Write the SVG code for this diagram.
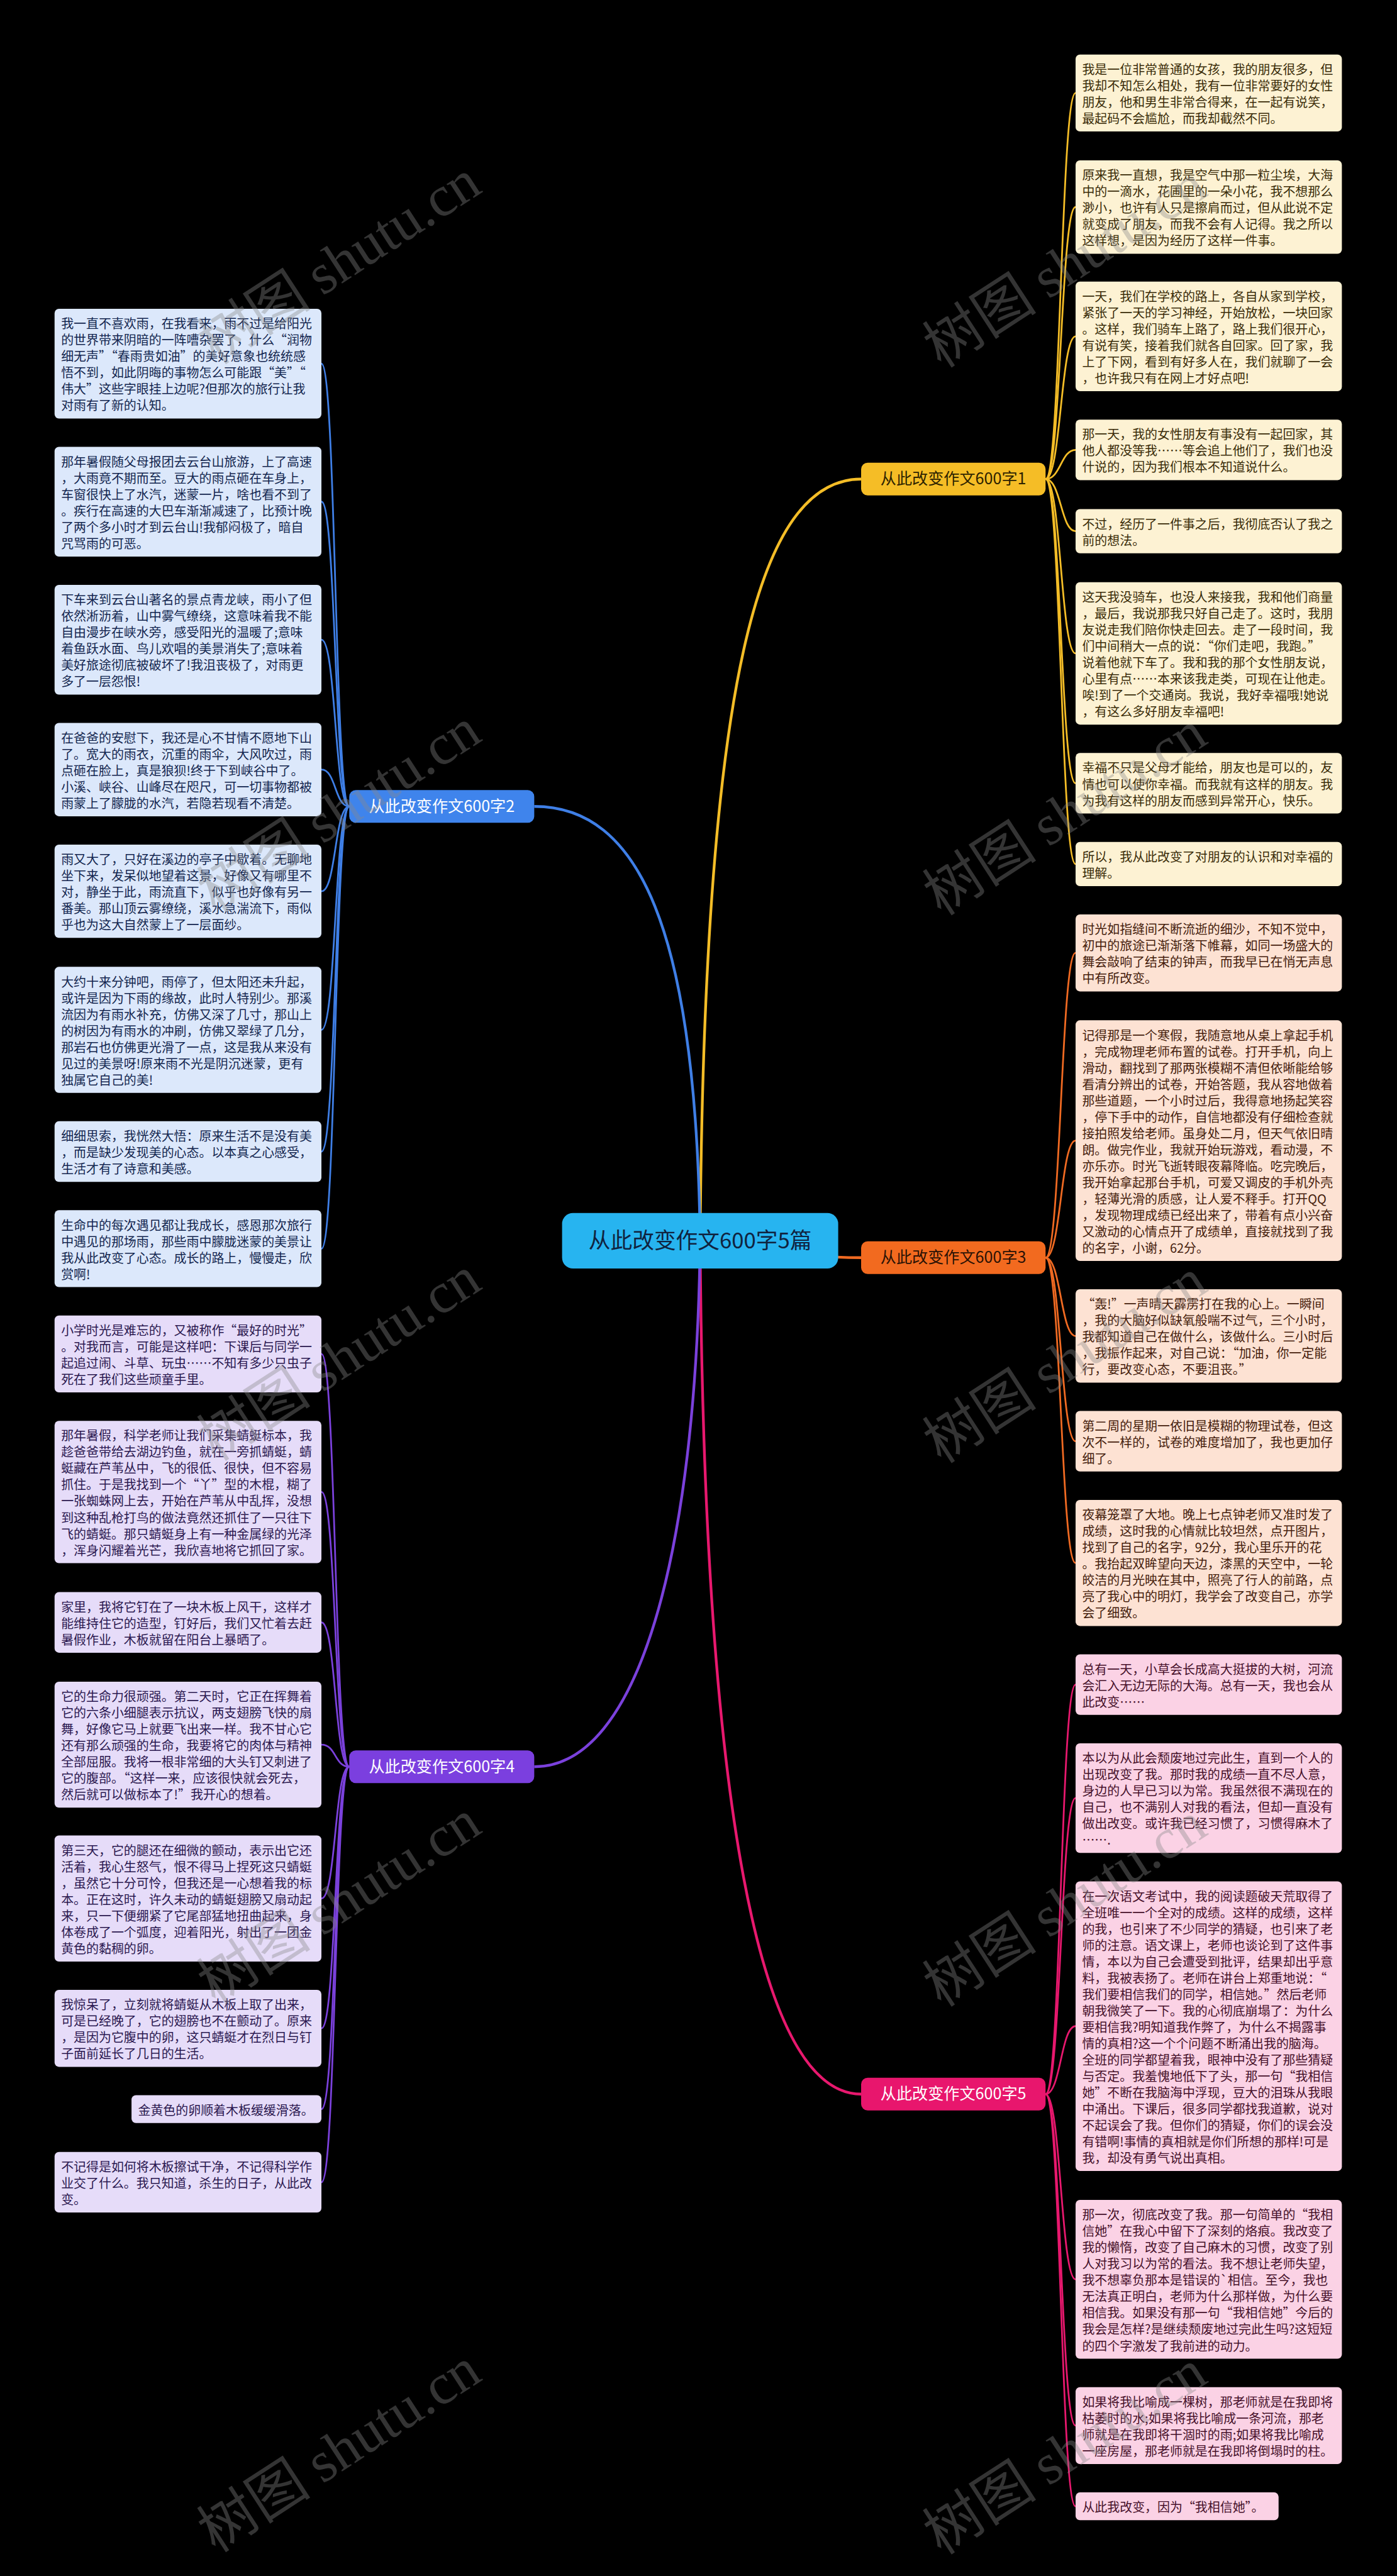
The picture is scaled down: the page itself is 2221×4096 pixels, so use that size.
<svg xmlns="http://www.w3.org/2000/svg" width="2221" height="4096" viewBox="0 0 2221 4096">
<style>
.t{font-family:"Noto Sans CJK SC","Noto Sans",sans-serif;font-size:23px}
.k1{fill:#3a2c08}.k3{fill:#45200c}.k5{fill:#46102a}.k2{fill:#13264f}.k4{fill:#2b1850}
.f1{fill:#fdf2d3}.f3{fill:#fde2d3}.f5{fill:#fbd2e5}.f2{fill:#dce8fb}.f4{fill:#e6dcf9}
.b{font-family:"Noto Sans CJK SC","Noto Sans",sans-serif;font-size:29px;text-anchor:middle}
.l{fill:none;stroke-width:3.2}
.m{fill:none;stroke-width:5}
.s1{stroke:#f4bd27}.s3{stroke:#f06a22}.s5{stroke:#e8186e}.s2{stroke:#3f7fe6}.s4{stroke:#7b41dc}
.wm{font-family:"Noto Sans CJK SC",sans-serif;font-size:105px;fill:#8a8a8a;fill-opacity:0.38}
</style>
<rect x="0" y="0" width="2221" height="4096" fill="#000"/>
<g transform="scale(0.867578)">
<g id="connectors">
<path class="m s1" d="M1283,2274 C1290,1250 1390,878 1578,878"/>
<path class="m s3" d="M1283,2274 C1420,2274 1440,2305 1578,2305"/>
<path class="m s5" d="M1283,2274 C1290,3300 1390,3838 1578,3838"/>
<path class="m s2" d="M1283,2274 C1276,1700 1170,1478 979,1478"/>
<path class="m s4" d="M1283,2274 C1276,2850 1170,3238 979,3238"/>
<path class="l s1" d="M1916,878 C1944,878 1944,170.5 1971,170.5"/>
<path class="l s1" d="M1916,878 C1944,878 1944,379.5 1971,379.5"/>
<path class="l s1" d="M1916,878 C1944,878 1944,616.5 1971,616.5"/>
<path class="l s1" d="M1916,878 C1944,878 1944,824.5 1971,824.5"/>
<path class="l s1" d="M1916,878 C1944,878 1944,973.5 1971,973.5"/>
<path class="l s1" d="M1916,878 C1944,878 1944,1197.5 1971,1197.5"/>
<path class="l s1" d="M1916,878 C1944,878 1944,1435.5 1971,1435.5"/>
<path class="l s1" d="M1916,878 C1944,878 1944,1583.5 1971,1583.5"/>
<path class="l s3" d="M1916,2305 C1944,2305 1944,1746.5 1971,1746.5"/>
<path class="l s3" d="M1916,2305 C1944,2305 1944,2090.5 1971,2090.5"/>
<path class="l s3" d="M1916,2305 C1944,2305 1944,2448.5 1971,2448.5"/>
<path class="l s3" d="M1916,2305 C1944,2305 1944,2641.5 1971,2641.5"/>
<path class="l s3" d="M1916,2305 C1944,2305 1944,2864.5 1971,2864.5"/>
<path class="l s5" d="M1916,3838 C1944,3838 1944,3087.5 1971,3087.5"/>
<path class="l s5" d="M1916,3838 C1944,3838 1944,3295.5 1971,3295.5"/>
<path class="l s5" d="M1916,3838 C1944,3838 1944,3713.5 1971,3713.5"/>
<path class="l s5" d="M1916,3838 C1944,3838 1944,4177.5 1971,4177.5"/>
<path class="l s5" d="M1916,3838 C1944,3838 1944,4445.5 1971,4445.5"/>
<path class="l s5" d="M1916,3838 C1944,3838 1944,4593.5 1971,4593.5"/>
<path class="l s2" d="M640,1478 C613,1478 616,666.5 589,666.5"/>
<path class="l s2" d="M640,1478 C613,1478 616,919.5 589,919.5"/>
<path class="l s2" d="M640,1478 C613,1478 616,1172.5 589,1172.5"/>
<path class="l s2" d="M640,1478 C613,1478 616,1410.5 589,1410.5"/>
<path class="l s2" d="M640,1478 C613,1478 616,1633.5 589,1633.5"/>
<path class="l s2" d="M640,1478 C613,1478 616,1887.5 589,1887.5"/>
<path class="l s2" d="M640,1478 C613,1478 616,2110.5 589,2110.5"/>
<path class="l s2" d="M640,1478 C613,1478 616,2288.5 589,2288.5"/>
<path class="l s4" d="M640,3238 C613,3238 616,2481.5 589,2481.5"/>
<path class="l s4" d="M640,3238 C613,3238 616,2734.5 589,2734.5"/>
<path class="l s4" d="M640,3238 C613,3238 616,2973.5 589,2973.5"/>
<path class="l s4" d="M640,3238 C613,3238 616,3197.5 589,3197.5"/>
<path class="l s4" d="M640,3238 C613,3238 616,3479.5 589,3479.5"/>
<path class="l s4" d="M640,3238 C613,3238 616,3717.5 589,3717.5"/>
<path class="l s4" d="M640,3238 C613,3238 616,3865.5 589,3865.5"/>
<path class="l s4" d="M640,3238 C613,3238 616,3999.5 589,3999.5"/>
</g>

<g id="root">
<rect x="1030" y="2223" width="506" height="102" rx="20" fill="#27b4f0"/>
<text x="1283" y="2288" font-family="Noto Sans CJK SC, Noto Sans, sans-serif" font-size="40" text-anchor="middle" fill="#10233f">从此改变作文600字5篇</text>
</g>

<g id="b1"><rect x="1578" y="848" width="338" height="60" rx="12" fill="#f5bd26"/><text class="b" x="1747" y="888" fill="#2d2300">从此改变作文600字1</text></g>
<g id="b3"><rect x="1578" y="2275" width="338" height="60" rx="12" fill="#f26a1f"/><text class="b" x="1747" y="2315" fill="#2a1205">从此改变作文600字3</text></g>
<g id="b5"><rect x="1578" y="3808" width="338" height="60" rx="12" fill="#e8166d"/><text class="b" x="1747" y="3848" fill="#ffffff">从此改变作文600字5</text></g>
<g id="b2"><rect x="640" y="1448" width="339" height="60" rx="12" fill="#3f84ec"/><text class="b" x="809.5" y="1488" fill="#ffffff">从此改变作文600字2</text></g>
<g id="b4"><rect x="640" y="3208" width="339" height="60" rx="12" fill="#7b3fdf"/><text class="b" x="809.5" y="3248" fill="#ffffff">从此改变作文600字4</text></g>

<g id="r1a"><rect class="f1" x="1971" y="100" width="488" height="141" rx="8"/><text class="t k1"><tspan x="1983" y="136">我是一位非常普通的女孩，我的朋友很多，但</tspan><tspan x="1983" y="166">我却不知怎么相处，我有一位非常要好的女性</tspan><tspan x="1983" y="196">朋友，他和男生非常合得来，在一起有说笑，</tspan><tspan x="1983" y="226">最起码不会尴尬，而我却截然不同。</tspan></text></g>
<g id="r1b"><rect class="f1" x="1971" y="294" width="488" height="171" rx="8"/><text class="t k1"><tspan x="1983" y="330">原来我一直想，我是空气中那一粒尘埃，大海</tspan><tspan x="1983" y="360">中的一滴水，花圃里的一朵小花，我不想那么</tspan><tspan x="1983" y="390">渺小，也许有人只是擦肩而过，但从此说不定</tspan><tspan x="1983" y="420">就变成了朋友，而我不会有人记得。我之所以</tspan><tspan x="1983" y="450">这样想，是因为经历了这样一件事。</tspan></text></g>
<g id="r1c"><rect class="f1" x="1971" y="516" width="488" height="201" rx="8"/><text class="t k1"><tspan x="1983" y="552">一天，我们在学校的路上，各自从家到学校，</tspan><tspan x="1983" y="582">紧张了一天的学习神经，开始放松，一块回家</tspan><tspan x="1983" y="612">。这样，我们骑车上路了，路上我们很开心，</tspan><tspan x="1983" y="642">有说有笑，接着我们就各自回家。回了家，我</tspan><tspan x="1983" y="672">上了下网，看到有好多人在，我们就聊了一会</tspan><tspan x="1983" y="702">，也许我只有在网上才好点吧!</tspan></text></g>
<g id="r1d"><rect class="f1" x="1971" y="769" width="488" height="111" rx="8"/><text class="t k1"><tspan x="1983" y="805">那一天，我的女性朋友有事没有一起回家，其</tspan><tspan x="1983" y="835">他人都没等我……等会追上他们了，我们也没</tspan><tspan x="1983" y="865">什说的，因为我们根本不知道说什么。</tspan></text></g>
<g id="r1e"><rect class="f1" x="1971" y="933" width="488" height="81" rx="8"/><text class="t k1"><tspan x="1983" y="969">不过，经历了一件事之后，我彻底否认了我之</tspan><tspan x="1983" y="999">前的想法。</tspan></text></g>
<g id="r1f"><rect class="f1" x="1971" y="1067" width="488" height="261" rx="8"/><text class="t k1"><tspan x="1983" y="1103">这天我没骑车，也没人来接我，我和他们商量</tspan><tspan x="1983" y="1133">，最后，我说那我只好自己走了。这时，我朋</tspan><tspan x="1983" y="1163">友说走我们陪你快走回去。走了一段时间，我</tspan><tspan x="1983" y="1193">们中间稍大一点的说：“你们走吧，我跑。”</tspan><tspan x="1983" y="1223">说着他就下车了。我和我的那个女性朋友说，</tspan><tspan x="1983" y="1253">心里有点……本来该我走类，可现在让他走。</tspan><tspan x="1983" y="1283">唉!到了一个交通岗。我说，我好幸福哦!她说</tspan><tspan x="1983" y="1313">，有这么多好朋友幸福吧!</tspan></text></g>
<g id="r1g"><rect class="f1" x="1971" y="1380" width="488" height="111" rx="8"/><text class="t k1"><tspan x="1983" y="1416">幸福不只是父母才能给，朋友也是可以的，友</tspan><tspan x="1983" y="1446">情也可以使你幸福。而我就有这样的朋友。我</tspan><tspan x="1983" y="1476">为我有这样的朋友而感到异常开心，快乐。</tspan></text></g>
<g id="r1h"><rect class="f1" x="1971" y="1543" width="488" height="81" rx="8"/><text class="t k1"><tspan x="1983" y="1579">所以，我从此改变了对朋友的认识和对幸福的</tspan><tspan x="1983" y="1609">理解。</tspan></text></g>

<g id="r3a"><rect class="f3" x="1971" y="1676" width="488" height="141" rx="8"/><text class="t k3"><tspan x="1983" y="1712">时光如指缝间不断流逝的细沙，不知不觉中，</tspan><tspan x="1983" y="1742">初中的旅途已渐渐落下帷幕，如同一场盛大的</tspan><tspan x="1983" y="1772">舞会敲响了结束的钟声，而我早已在悄无声息</tspan><tspan x="1983" y="1802">中有所改变。</tspan></text></g>
<g id="r3b"><rect class="f3" x="1971" y="1870" width="488" height="441" rx="8"/><text class="t k3"><tspan x="1983" y="1906">记得那是一个寒假，我随意地从桌上拿起手机</tspan><tspan x="1983" y="1936">，完成物理老师布置的试卷。打开手机，向上</tspan><tspan x="1983" y="1966">滑动，翻找到了那两张模糊不清但依晰能给够</tspan><tspan x="1983" y="1996">看清分辨出的试卷，开始答题，我从容地做着</tspan><tspan x="1983" y="2026">那些道题，一个小时过后，我得意地扬起笑容</tspan><tspan x="1983" y="2056">，停下手中的动作，自信地都没有仔细检查就</tspan><tspan x="1983" y="2086">接拍照发给老师。虽身处二月，但天气依旧晴</tspan><tspan x="1983" y="2116">朗。做完作业，我就开始玩游戏，看动漫，不</tspan><tspan x="1983" y="2146">亦乐亦。时光飞逝转眼夜幕降临。吃完晚后，</tspan><tspan x="1983" y="2176">我开始拿起那台手机，可爱又调皮的手机外壳</tspan><tspan x="1983" y="2206">，轻薄光滑的质感，让人爱不释手。打开QQ</tspan><tspan x="1983" y="2236">，发现物理成绩已经出来了，带着有点小兴奋</tspan><tspan x="1983" y="2266">又激动的心情点开了成绩单，直接就找到了我</tspan><tspan x="1983" y="2296">的名字，小谢，62分。</tspan></text></g>
<g id="r3c"><rect class="f3" x="1971" y="2363" width="488" height="171" rx="8"/><text class="t k3"><tspan x="1983" y="2399">“轰!”一声晴天霹雳打在我的心上。一瞬间</tspan><tspan x="1983" y="2429">，我的大脑好似缺氧般喘不过气，三个小时，</tspan><tspan x="1983" y="2459">我都知道自己在做什么，该做什么。三小时后</tspan><tspan x="1983" y="2489">，我振作起来，对自己说：“加油，你一定能</tspan><tspan x="1983" y="2519">行，要改变心态，不要沮丧。”</tspan></text></g>
<g id="r3d"><rect class="f3" x="1971" y="2586" width="488" height="111" rx="8"/><text class="t k3"><tspan x="1983" y="2622">第二周的星期一依旧是模糊的物理试卷，但这</tspan><tspan x="1983" y="2652">次不一样的，试卷的难度增加了，我也更加仔</tspan><tspan x="1983" y="2682">细了。</tspan></text></g>
<g id="r3e"><rect class="f3" x="1971" y="2749" width="488" height="231" rx="8"/><text class="t k3"><tspan x="1983" y="2785">夜幕笼罩了大地。晚上七点钟老师又准时发了</tspan><tspan x="1983" y="2815">成绩，这时我的心情就比较坦然，点开图片，</tspan><tspan x="1983" y="2845">找到了自己的名字，92分，我心里乐开的花</tspan><tspan x="1983" y="2875">。我抬起双眸望向天边，漆黑的天空中，一轮</tspan><tspan x="1983" y="2905">皎洁的月光映在其中，照亮了行人的前路，点</tspan><tspan x="1983" y="2935">亮了我心中的明灯，我学会了改变自己，亦学</tspan><tspan x="1983" y="2965">会了细致。</tspan></text></g>

<g id="r5a"><rect class="f5" x="1971" y="3032" width="488" height="111" rx="8"/><text class="t k5"><tspan x="1983" y="3068">总有一天，小草会长成高大挺拔的大树，河流</tspan><tspan x="1983" y="3098">会汇入无边无际的大海。总有一天，我也会从</tspan><tspan x="1983" y="3128">此改变……</tspan></text></g>
<g id="r5b"><rect class="f5" x="1971" y="3195" width="488" height="201" rx="8"/><text class="t k5"><tspan x="1983" y="3231">本以为从此会颓废地过完此生，直到一个人的</tspan><tspan x="1983" y="3261">出现改变了我。那时我的成绩一直不尽人意，</tspan><tspan x="1983" y="3291">身边的人早已习以为常。我虽然很不满现在的</tspan><tspan x="1983" y="3321">自己，也不满别人对我的看法，但却一直没有</tspan><tspan x="1983" y="3351">做出改变。或许我已经习惯了，习惯得麻木了</tspan><tspan x="1983" y="3381">…….</tspan></text></g>
<g id="r5c"><rect class="f5" x="1971" y="3448" width="488" height="531" rx="8"/><text class="t k5"><tspan x="1983" y="3484">在一次语文考试中，我的阅读题破天荒取得了</tspan><tspan x="1983" y="3514">全班唯一一个全对的成绩。这样的成绩，这样</tspan><tspan x="1983" y="3544">的我，也引来了不少同学的猜疑，也引来了老</tspan><tspan x="1983" y="3574">师的注意。语文课上，老师也谈论到了这件事</tspan><tspan x="1983" y="3604">情，本以为自己会遭受到批评，结果却出乎意</tspan><tspan x="1983" y="3634">料，我被表扬了。老师在讲台上郑重地说：“</tspan><tspan x="1983" y="3664">我们要相信我们的同学，相信她。”然后老师</tspan><tspan x="1983" y="3694">朝我微笑了一下。我的心彻底崩塌了：为什么</tspan><tspan x="1983" y="3724">要相信我?明知道我作弊了，为什么不揭露事</tspan><tspan x="1983" y="3754">情的真相?这一个个问题不断涌出我的脑海。</tspan><tspan x="1983" y="3784">全班的同学都望着我，眼神中没有了那些猜疑</tspan><tspan x="1983" y="3814">与否定。我羞愧地低下了头，那一句“我相信</tspan><tspan x="1983" y="3844">她”不断在我脑海中浮现，豆大的泪珠从我眼</tspan><tspan x="1983" y="3874">中涌出。下课后，很多同学都找我道歉，说对</tspan><tspan x="1983" y="3904">不起误会了我。但你们的猜疑，你们的误会没</tspan><tspan x="1983" y="3934">有错啊!事情的真相就是你们所想的那样!可是</tspan><tspan x="1983" y="3964">我，却没有勇气说出真相。</tspan></text></g>
<g id="r5d"><rect class="f5" x="1971" y="4032" width="488" height="291" rx="8"/><text class="t k5"><tspan x="1983" y="4068">那一次，彻底改变了我。那一句简单的“我相</tspan><tspan x="1983" y="4098">信她”在我心中留下了深刻的烙痕。我改变了</tspan><tspan x="1983" y="4128">我的懒惰，改变了自己麻木的习惯，改变了别</tspan><tspan x="1983" y="4158">人对我习以为常的看法。我不想让老师失望，</tspan><tspan x="1983" y="4188">我不想辜负那本是错误的`相信。至今，我也</tspan><tspan x="1983" y="4218">无法真正明白，老师为什么那样做，为什么要</tspan><tspan x="1983" y="4248">相信我。如果没有那一句“我相信她”今后的</tspan><tspan x="1983" y="4278">我会是怎样?是继续颓废地过完此生吗?这短短</tspan><tspan x="1983" y="4308">的四个字激发了我前进的动力。</tspan></text></g>
<g id="r5e"><rect class="f5" x="1971" y="4375" width="488" height="141" rx="8"/><text class="t k5"><tspan x="1983" y="4411">如果将我比喻成一棵树，那老师就是在我即将</tspan><tspan x="1983" y="4441">枯萎时的水;如果将我比喻成一条河流，那老</tspan><tspan x="1983" y="4471">师就是在我即将干涸时的雨;如果将我比喻成</tspan><tspan x="1983" y="4501">一座房屋，那老师就是在我即将倒塌时的柱。</tspan></text></g>
<g id="r5f"><rect class="f5" x="1971" y="4568" width="372" height="51" rx="8"/><text class="t k5"><tspan x="1983" y="4604">从此我改变，因为“我相信她”。</tspan></text></g>

<g id="l2a"><rect class="f2" x="100" y="566" width="489" height="201" rx="8"/><text class="t k2"><tspan x="112" y="602">我一直不喜欢雨，在我看来，雨不过是给阳光</tspan><tspan x="112" y="632">的世界带来阴暗的一阵嘈杂罢了，什么“润物</tspan><tspan x="112" y="662">细无声”“春雨贵如油”的美好意象也统统感</tspan><tspan x="112" y="692">悟不到，如此阴晦的事物怎么可能跟“美”“</tspan><tspan x="112" y="722">伟大”这些字眼挂上边呢?但那次的旅行让我</tspan><tspan x="112" y="752">对雨有了新的认知。</tspan></text></g>
<g id="l2b"><rect class="f2" x="100" y="819" width="489" height="201" rx="8"/><text class="t k2"><tspan x="112" y="855">那年暑假随父母报团去云台山旅游，上了高速</tspan><tspan x="112" y="885">，大雨竟不期而至。豆大的雨点砸在车身上，</tspan><tspan x="112" y="915">车窗很快上了水汽，迷蒙一片，啥也看不到了</tspan><tspan x="112" y="945">。疾行在高速的大巴车渐渐减速了，比预计晚</tspan><tspan x="112" y="975">了两个多小时才到云台山!我郁闷极了，暗自</tspan><tspan x="112" y="1005">咒骂雨的可恶。</tspan></text></g>
<g id="l2c"><rect class="f2" x="100" y="1072" width="489" height="201" rx="8"/><text class="t k2"><tspan x="112" y="1108">下车来到云台山著名的景点青龙峡，雨小了但</tspan><tspan x="112" y="1138">依然淅沥着，山中雾气缭绕，这意味着我不能</tspan><tspan x="112" y="1168">自由漫步在峡水旁，感受阳光的温暖了;意味</tspan><tspan x="112" y="1198">着鱼跃水面、鸟儿欢唱的美景消失了;意味着</tspan><tspan x="112" y="1228">美好旅途彻底被破坏了!我沮丧极了，对雨更</tspan><tspan x="112" y="1258">多了一层怨恨!</tspan></text></g>
<g id="l2d"><rect class="f2" x="100" y="1325" width="489" height="171" rx="8"/><text class="t k2"><tspan x="112" y="1361">在爸爸的安慰下，我还是心不甘情不愿地下山</tspan><tspan x="112" y="1391">了。宽大的雨衣，沉重的雨伞，大风吹过，雨</tspan><tspan x="112" y="1421">点砸在脸上，真是狼狈!终于下到峡谷中了。</tspan><tspan x="112" y="1451">小溪、峡谷、山峰尽在咫尺，可一切事物都被</tspan><tspan x="112" y="1481">雨蒙上了朦胧的水汽，若隐若现看不清楚。</tspan></text></g>
<g id="l2e"><rect class="f2" x="100" y="1548" width="489" height="171" rx="8"/><text class="t k2"><tspan x="112" y="1584">雨又大了，只好在溪边的亭子中歇着。无聊地</tspan><tspan x="112" y="1614">坐下来，发呆似地望着这景，好像又有哪里不</tspan><tspan x="112" y="1644">对，静坐于此，雨流直下，似乎也好像有另一</tspan><tspan x="112" y="1674">番美。那山顶云雾缭绕，溪水急湍流下，雨似</tspan><tspan x="112" y="1704">乎也为这大自然蒙上了一层面纱。</tspan></text></g>
<g id="l2f"><rect class="f2" x="100" y="1772" width="489" height="231" rx="8"/><text class="t k2"><tspan x="112" y="1808">大约十来分钟吧，雨停了，但太阳还未升起，</tspan><tspan x="112" y="1838">或许是因为下雨的缘故，此时人特别少。那溪</tspan><tspan x="112" y="1868">流因为有雨水补充，仿佛又深了几寸，那山上</tspan><tspan x="112" y="1898">的树因为有雨水的冲刷，仿佛又翠绿了几分，</tspan><tspan x="112" y="1928">那岩石也仿佛更光滑了一点，这是我从来没有</tspan><tspan x="112" y="1958">见过的美景呀!原来雨不光是阴沉迷蒙，更有</tspan><tspan x="112" y="1988">独属它自己的美!</tspan></text></g>
<g id="l2g"><rect class="f2" x="100" y="2055" width="489" height="111" rx="8"/><text class="t k2"><tspan x="112" y="2091">细细思索，我恍然大悟：原来生活不是没有美</tspan><tspan x="112" y="2121">，而是缺少发现美的心态。以本真之心感受，</tspan><tspan x="112" y="2151">生活才有了诗意和美感。</tspan></text></g>
<g id="l2h"><rect class="f2" x="100" y="2218" width="489" height="141" rx="8"/><text class="t k2"><tspan x="112" y="2254">生命中的每次遇见都让我成长，感恩那次旅行</tspan><tspan x="112" y="2284">中遇见的那场雨，那些雨中朦胧迷蒙的美景让</tspan><tspan x="112" y="2314">我从此改变了心态。成长的路上，慢慢走，欣</tspan><tspan x="112" y="2344">赏啊!</tspan></text></g>

<g id="l4a"><rect class="f4" x="100" y="2411" width="489" height="141" rx="8"/><text class="t k4"><tspan x="112" y="2447">小学时光是难忘的，又被称作“最好的时光”</tspan><tspan x="112" y="2477">。对我而言，可能是这样吧：下课后与同学一</tspan><tspan x="112" y="2507">起追过闹、斗草、玩虫……不知有多少只虫子</tspan><tspan x="112" y="2537">死在了我们这些顽童手里。</tspan></text></g>
<g id="l4b"><rect class="f4" x="100" y="2604" width="489" height="261" rx="8"/><text class="t k4"><tspan x="112" y="2640">那年暑假，科学老师让我们采集蜻蜓标本，我</tspan><tspan x="112" y="2670">趁爸爸带给去湖边钓鱼，就在一旁抓蜻蜓，蜻</tspan><tspan x="112" y="2700">蜓藏在芦苇丛中，飞的很低、很快，但不容易</tspan><tspan x="112" y="2730">抓住。于是我找到一个“丫”型的木棍，糊了</tspan><tspan x="112" y="2760">一张蜘蛛网上去，开始在芦苇从中乱挥，没想</tspan><tspan x="112" y="2790">到这种乱枪打鸟的做法竟然还抓住了一只往下</tspan><tspan x="112" y="2820">飞的蜻蜓。那只蜻蜓身上有一种金属绿的光泽</tspan><tspan x="112" y="2850">，浑身闪耀着光芒，我欣喜地将它抓回了家。</tspan></text></g>
<g id="l4c"><rect class="f4" x="100" y="2918" width="489" height="111" rx="8"/><text class="t k4"><tspan x="112" y="2954">家里，我将它钉在了一块木板上风干，这样才</tspan><tspan x="112" y="2984">能维持住它的造型，钉好后，我们又忙着去赶</tspan><tspan x="112" y="3014">暑假作业，木板就留在阳台上暴晒了。</tspan></text></g>
<g id="l4d"><rect class="f4" x="100" y="3082" width="489" height="231" rx="8"/><text class="t k4"><tspan x="112" y="3118">它的生命力很顽强。第二天时，它正在挥舞着</tspan><tspan x="112" y="3148">它的六条小细腿表示抗议，两支翅膀飞快的扇</tspan><tspan x="112" y="3178">舞，好像它马上就要飞出来一样。我不甘心它</tspan><tspan x="112" y="3208">还有那么顽强的生命，我要将它的肉体与精神</tspan><tspan x="112" y="3238">全部屈服。我将一根非常细的大头钉又刺进了</tspan><tspan x="112" y="3268">它的腹部。“这样一来，应该很快就会死去，</tspan><tspan x="112" y="3298">然后就可以做标本了!”我开心的想着。</tspan></text></g>
<g id="l4e"><rect class="f4" x="100" y="3364" width="489" height="231" rx="8"/><text class="t k4"><tspan x="112" y="3400">第三天，它的腿还在细微的颤动，表示出它还</tspan><tspan x="112" y="3430">活着，我心生怒气，恨不得马上捏死这只蜻蜓</tspan><tspan x="112" y="3460">，虽然它十分可怜，但我还是一心想着我的标</tspan><tspan x="112" y="3490">本。正在这时，许久未动的蜻蜓翅膀又扇动起</tspan><tspan x="112" y="3520">来，只一下便绷紧了它尾部猛地扭曲起来，身</tspan><tspan x="112" y="3550">体卷成了一个弧度，迎着阳光，射出了一团金</tspan><tspan x="112" y="3580">黄色的黏稠的卵。</tspan></text></g>
<g id="l4f"><rect class="f4" x="100" y="3647" width="489" height="141" rx="8"/><text class="t k4"><tspan x="112" y="3683">我惊呆了，立刻就将蜻蜓从木板上取了出来，</tspan><tspan x="112" y="3713">可是已经晚了，它的翅膀也不在颤动了。原来</tspan><tspan x="112" y="3743">，是因为它腹中的卵，这只蜻蜓才在烈日与钉</tspan><tspan x="112" y="3773">子面前延长了几日的生活。</tspan></text></g>
<g id="l4g"><rect class="f4" x="241" y="3840" width="348" height="51" rx="8"/><text class="t k4"><tspan x="253" y="3876">金黄色的卵顺着木板缓缓滑落。</tspan></text></g>
<g id="l4h"><rect class="f4" x="100" y="3944" width="489" height="111" rx="8"/><text class="t k4"><tspan x="112" y="3980">不记得是如何将木板擦试干净，不记得科学作</tspan><tspan x="112" y="4010">业交了什么。我只知道，杀生的日子，从此改</tspan><tspan x="112" y="4040">变。</tspan></text></g>

<g id="watermarks">
<text class="wm" transform="translate(395,670) rotate(-33)">树图 <tspan font-family="Liberation Serif">shutu.cn</tspan></text>
<text class="wm" transform="translate(1725,676) rotate(-33)">树图 <tspan font-family="Liberation Serif">shutu.cn</tspan></text>
<text class="wm" transform="translate(395,1675) rotate(-33)">树图 <tspan font-family="Liberation Serif">shutu.cn</tspan></text>
<text class="wm" transform="translate(1725,1680) rotate(-33)">树图 <tspan font-family="Liberation Serif">shutu.cn</tspan></text>
<text class="wm" transform="translate(395,2680) rotate(-33)">树图 <tspan font-family="Liberation Serif">shutu.cn</tspan></text>
<text class="wm" transform="translate(1725,2684) rotate(-33)">树图 <tspan font-family="Liberation Serif">shutu.cn</tspan></text>
<text class="wm" transform="translate(395,3676) rotate(-33)">树图 <tspan font-family="Liberation Serif">shutu.cn</tspan></text>
<text class="wm" transform="translate(1725,3680) rotate(-33)">树图 <tspan font-family="Liberation Serif">shutu.cn</tspan></text>
<text class="wm" transform="translate(395,4680) rotate(-33)">树图 <tspan font-family="Liberation Serif">shutu.cn</tspan></text>
<text class="wm" transform="translate(1725,4684) rotate(-33)">树图 <tspan font-family="Liberation Serif">shutu.cn</tspan></text>
</g>
</g>
</svg>
